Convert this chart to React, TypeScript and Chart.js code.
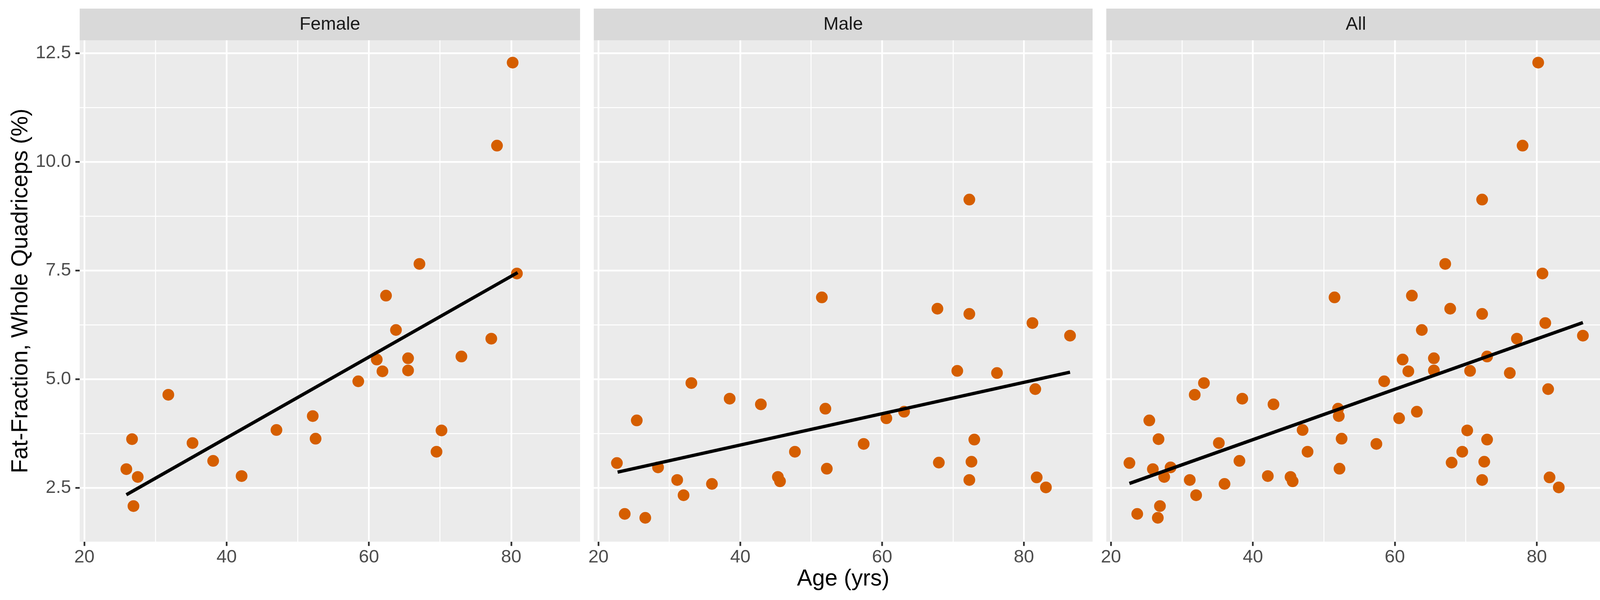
import React, { useEffect, useRef } from 'react';
import { Chart, registerables } from 'chart.js';

Chart.register(...registerables);

// ---------------- data ----------------
const panelNames = ['Female', 'Male', 'All'];

const femaleAge = [25.9, 26.7, 27.5, 26.9, 31.8, 35.2, 38.1, 42.1, 47.0, 52.1, 52.5, 58.5, 61.1, 61.9, 62.4, 63.8, 65.5, 65.5, 67.1, 69.5, 70.2, 73.0, 77.2, 78.0, 80.2, 80.8];
const femaleFF = [2.93, 3.62, 2.75, 2.08, 4.64, 3.53, 3.12, 2.77, 3.83, 4.15, 3.63, 4.95, 5.45, 5.18, 6.92, 6.13, 5.48, 5.20, 7.65, 3.33, 3.82, 5.52, 5.93, 10.37, 12.28, 7.43];

const maleAge = [22.6, 23.7, 25.4, 26.6, 28.4, 31.1, 32.0, 33.1, 36.0, 38.5, 42.9, 45.3, 45.6, 47.7, 51.5, 52.0, 52.2, 57.4, 60.6, 63.1, 67.8, 68.0, 70.6, 72.3, 72.3, 72.3, 72.6, 73.0, 76.2, 81.2, 81.6, 81.8, 83.1, 86.5];
const maleFF = [3.07, 1.90, 4.05, 1.81, 2.97, 2.68, 2.33, 4.91, 2.59, 4.55, 4.42, 2.75, 2.65, 3.33, 6.88, 4.32, 2.94, 3.51, 4.10, 4.25, 6.62, 3.08, 5.19, 9.13, 6.50, 2.68, 3.10, 3.61, 5.14, 6.29, 4.77, 2.74, 2.51, 6.00];

// fitted (lm) line end points
const femaleFitAge = [25.9, 80.9];
const femaleFitFF = [2.34, 7.45];
const maleFitAge = [22.7, 86.5];
const maleFitFF = [2.86, 5.16];
const allFitAge = [22.6, 86.5];
const allFitFF = [2.6, 6.3];

const xMajorTicks = [20, 40, 60, 80];
const xMinorTicks = [30, 50, 70];
const yMajorTicks = [2.5, 5.0, 7.5, 10.0, 12.5];
const yMinorTicks = [3.75, 6.25, 8.75, 11.25];
const xLimits = [19.34, 89.68];
const yLimits = [1.262, 12.794];

const xTitle = 'Age (yrs)';
const yTitle = 'Fat-Fraction, Whole Quadriceps (%)';

// ---------------- styling ----------------
const FONT = '"Liberation Sans", Arial, Helvetica, sans-serif';
const POINT_COLOR = '#D55E00';
const PANEL_BG = '#EBEBEB';
const STRIP_BG = '#D9D9D9';
const MAJOR_W = 4.4;
const MINOR_W = 2.4;
const TICK_FONT = 46.7;
const STRIP_FONT = 46.7;
const TITLE_FONT = 58.3;

const toPts = (xs: number[], ys: number[]) => xs.map((x, i) => ({ x, y: ys[i] }));

const panelData = [
  { pts: toPts(femaleAge, femaleFF), fit: toPts(femaleFitAge, femaleFitFF) },
  { pts: toPts(maleAge, maleFF), fit: toPts(maleFitAge, maleFitFF) },
  {
    pts: toPts([...femaleAge, ...maleAge], [...femaleFF, ...maleFF]),
    fit: toPts(allFitAge, allFitFF),
  },
];

// canvas geometry per panel
const layoutCfg = [
  { left: 0, width: 1500, padL: 0, padR: 9.5, yWidth: 204, first: true, xTitle: false },
  { left: 1500, width: 1312, padL: 14, padR: 12, yWidth: 0, first: false, xTitle: true },
  { left: 2812, width: 1321, padL: 11.5, padR: 23, yWidth: 0, first: false, xTitle: false },
];
const H = 1535;
const PANEL_TOP = 103;
const STRIP_H = 81;
const X_AXIS_H = 149.3;

function makePanelPlugin(label: string) {
  return {
    id: 'panelBg' + label,
    beforeDraw(chart: any) {
      const { ctx, chartArea: a } = chart;
      ctx.save();
      ctx.fillStyle = PANEL_BG;
      ctx.fillRect(a.left, a.top, a.right - a.left, a.bottom - a.top);
      ctx.fillStyle = STRIP_BG;
      ctx.fillRect(a.left, a.top - STRIP_H, a.right - a.left, STRIP_H);
      ctx.fillStyle = '#1A1A1A';
      ctx.font = `${STRIP_FONT}px ${FONT}`;
      ctx.textAlign = 'center';
      ctx.textBaseline = 'middle';
      ctx.fillText(label, (a.left + a.right) / 2, a.top - STRIP_H / 2 + 1);
      ctx.restore();
    },
  };
}

const isIn = (arr: number[], v: number) => arr.some((a) => Math.abs(a - v) < 1e-9);

function Panel({ idx }: { idx: number }) {
  const ref = useRef<HTMLCanvasElement | null>(null);
  const cfg = layoutCfg[idx];
  useEffect(() => {
    if (!ref.current) return;
    const d = panelData[idx];
    const chart = new Chart(ref.current, {
      type: 'scatter',
      data: {
        datasets: [
          {
            data: d.fit,
            showLine: true,
            borderColor: '#000000',
            borderWidth: 8.5,
            pointRadius: 0,
            order: 0,
          } as any,
          {
            data: d.pts,
            backgroundColor: POINT_COLOR,
            borderWidth: 0,
            pointRadius: 15,
            pointHoverRadius: 15,
            order: 1,
          } as any,
        ],
      },
      plugins: [makePanelPlugin(panelNames[idx])],
      options: {
        animation: false,
        responsive: false,
        maintainAspectRatio: false,
        events: [],
        layout: { padding: { left: cfg.padL, right: cfg.padR, top: PANEL_TOP, bottom: 0 } },
        plugins: { legend: { display: false }, tooltip: { enabled: false }, title: { display: false } },
        scales: {
          x: {
            type: 'linear',
            min: xLimits[0],
            max: xLimits[1],
            bounds: 'data',
            afterBuildTicks: (s: any) => {
              s.ticks = [...xMajorTicks, ...xMinorTicks].sort((a, b) => a - b).map((v) => ({ value: v }));
            },
            afterFit: (s: any) => {
              s.height = X_AXIS_H;
            },
            border: { display: false },
            grid: {
              color: '#FFFFFF',
              lineWidth: (c: any) => (isIn(xMajorTicks, c.tick?.value) ? MAJOR_W : MINOR_W),
              tickLength: 11,
              tickWidth: MAJOR_W,
              tickColor: (c: any) => (isIn(xMajorTicks, c.tick?.value) ? '#333333' : 'rgba(0,0,0,0)'),
            },
            ticks: {
              autoSkip: false,
              maxRotation: 0,
              color: '#4D4D4D',
              font: { family: FONT, size: TICK_FONT, lineHeight: 1 },
              padding: 6,
              callback: (v: any) => (isIn(xMajorTicks, v) ? String(v) : ''),
            },
            title: {
              display: cfg.xTitle,
              text: xTitle,
              color: '#000000',
              font: { family: FONT, size: TITLE_FONT, lineHeight: 1 },
              padding: { top: 0, bottom: 24 },
            },
          } as any,
          y: {
            type: 'linear',
            min: yLimits[0],
            max: yLimits[1],
            bounds: 'data',
            afterBuildTicks: (s: any) => {
              s.ticks = [...yMajorTicks, ...yMinorTicks].sort((a, b) => a - b).map((v) => ({ value: v }));
            },
            afterFit: (s: any) => {
              s.width = cfg.yWidth;
            },
            border: { display: false },
            grid: {
              color: '#FFFFFF',
              lineWidth: (c: any) => (isIn(yMajorTicks, c.tick?.value) ? MAJOR_W : MINOR_W),
              drawTicks: cfg.first,
              tickLength: 11,
              tickWidth: MAJOR_W,
              tickColor: (c: any) => (isIn(yMajorTicks, c.tick?.value) ? '#333333' : 'rgba(0,0,0,0)'),
            },
            ticks: {
              display: cfg.first,
              autoSkip: false,
              color: '#4D4D4D',
              font: { family: FONT, size: TICK_FONT, lineHeight: 1 },
              padding: 11,
              callback: (v: any) => (isIn(yMajorTicks, v) ? Number(v).toFixed(1) : ''),
            },
            title: {
              display: cfg.first,
              text: yTitle,
              color: '#000000',
              font: { family: FONT, size: TITLE_FONT, lineHeight: 1 },
              padding: { top: 25, bottom: 0 },
            },
          } as any,
        },
      } as any,
    });
    return () => chart.destroy();
  }, [idx]);
  return (
    <canvas
      ref={ref}
      width={cfg.width}
      height={H}
      style={{ position: 'absolute', left: cfg.left, top: 0, width: cfg.width, height: H }}
    />
  );
}

export default function App() {
  useEffect(() => {
    document.body.style.margin = '0';
  }, []);
  return (
    <div style={{ position: 'relative', width: 4133, height: H, background: '#FFFFFF', overflow: 'hidden' }}>
      {[0, 1, 2].map((i) => (
        <Panel key={i} idx={i} />
      ))}
    </div>
  );
}
